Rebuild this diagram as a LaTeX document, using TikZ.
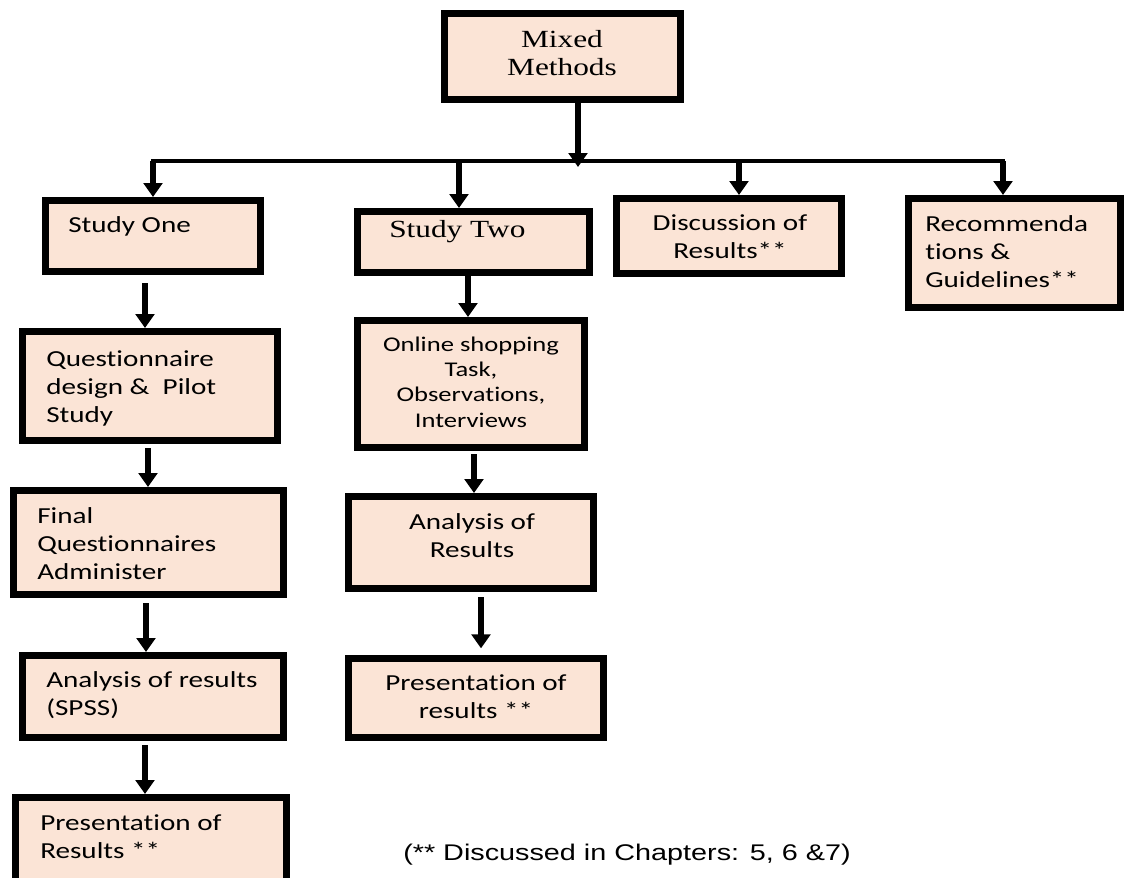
\documentclass[tikz,border=0pt]{standalone}
\usepackage{fontspec}
\usetikzlibrary{arrows.meta}
\newfontfamily\bodyfont{Carlito}[FakeStretch=1.27, Ligatures=NoCommon]
\newfontfamily\headfont{Liberation Serif}[FakeStretch=1.27]
\newfontfamily\notefont{Liberation Sans}[FakeStretch=1.27]
\definecolor{peach}{HTML}{FBE4D6}
% box given by its outer corners (x1,y1) (x2,y2), in pixel units
\newcommand\panel[5]{%
  \node[panel, minimum width={(#4-#2)*0.75pt-5.2pt},
        minimum height={(#5-#3)*0.75pt-5.2pt}]
        (#1) at ({(#2+#4)/2},{(#3+#5)/2}) {};}
\begin{document}
\begin{tikzpicture}[x=0.75pt, y=-0.75pt,
  panel/.style={draw=black, line width=5.2pt, fill=peach, inner sep=0pt},
  link/.style={line width=3.9pt, -{Triangle[width=14pt,length=10.5pt]}},
  busline/.style={line width=3.4pt, line cap=rect},
  body/.style={font=\bodyfont\fontsize{17.2}{20.8}\selectfont, inner sep=0pt, align=left},
  bodysmall/.style={font=\bodyfont\fontsize{15.7}{18.8}\selectfont, inner sep=0pt, align=center},
  head/.style={font=\headfont\fontsize{18.5}{21}\selectfont, inner sep=0pt, align=center},
  note/.style={font=\notefont\fontsize{17}{20}\selectfont, inner sep=0pt},
]
\clip (0,0) rectangle (1125,878);
\fill[white] (0,0) rectangle (1125,878);

% boxes
\panel{mm}{441}{10}{684}{103}
\panel{s1}{42}{197}{264}{275}
\panel{s2}{354}{208}{593}{276}
\panel{disc}{613}{195}{845}{277}
\panel{rec}{905}{195}{1124}{311}
\panel{q}{19}{328}{281}{444}
\panel{fin}{10}{487}{287}{598}
\panel{spss}{19}{652}{287}{741}
\panel{p1}{12}{794}{290}{890}
\panel{on}{354}{317}{588}{451}
\panel{a2}{345}{493}{597}{592}
\panel{p2}{345}{655}{607}{741}

% texts (multi-line nodes are placed by the baseline of their last line)
\node[head, anchor=base] (mmt) at (562,75) {Mixed\\Methods};
\node[body, anchor=base west] (s1t) at (68,232) {Study One};
\node[head, anchor=base west] (s2t) at (389,237) {Study Two};
\node[body, align=center, anchor=base] (disct) at (730,258) {Discussion of\\Results**};
\node[body, anchor=base west] (rect) at (925,287) {Recommenda\\tions \&\\Guidelines**};
\node[body, anchor=base west] (qt) at (46,422) {Questionnaire\\design \&~ Pilot\\Study};
\node[body, anchor=base west] (fint) at (37,579) {Final\\Questionnaires\\Administer};
\node[body, anchor=base west] (spsst) at (46,715) {Analysis of results\\(SPSS)};
\node[body, anchor=base west] (p1t) at (40,858) {Presentation of\\Results **};
\node[bodysmall, anchor=base] (ont) at (471,427) {Online shopping\\Task,\\Observations,\\Interviews};
\node[body, align=center, anchor=base] (a2t) at (472,557) {Analysis of\\Results};
\node[body, align=center, anchor=base] (p2t) at (476,718) {Presentation of\\results **};
\node[note, anchor=base west] (fn) at (403,860) {(** Discussed in Chapters: 5, 6 \&7)};

% distribution bus
\coordinate (busL) at (153,161);
\coordinate (busR) at (1003,161);
\coordinate (busin) at (578,167);
\draw[busline] (busL) -- (busR);
\draw[link] (mm.south -| busin) -- (busin);
\draw[link] (busL) -- (s1.north -| busL);
\draw[link] (459,161) -- (s2.north -| 459,0);
\draw[link] (739,161) -- (disc.north -| 739,0);
\draw[link] (busR) -- (rec.north -| busR);

% study one column
\draw[link, shorten <=6pt] (s1.south -| 145,0) -- (q.north -| 145,0);
\draw[link, shorten <=3pt] (q.south -| 148,0) -- (fin.north -| 148,0);
\draw[link, shorten <=3.75pt] (fin.south -| 146,0) -- (spss.north -| 146,0);
\draw[link, shorten <=3pt] (spss.south -| 145,0) -- (p1.north -| 145,0);

% study two column
\draw[link] (s2.south -| 468,0) -- (on.north -| 468,0);
\draw[link, shorten <=2.25pt] (on.south -| 474,0) -- (a2.north -| 474,0);
\draw[link, shorten <=3.75pt, shorten >=5pt] (a2.south -| 481,0) -- (p2.north -| 481,0);
\end{tikzpicture}
\end{document}
